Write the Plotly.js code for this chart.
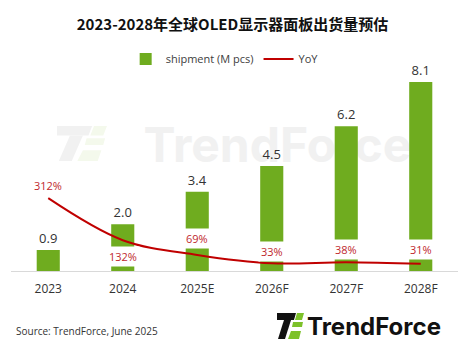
<!DOCTYPE html>
<html><head><meta charset="utf-8">
<script src="https://cdn.plot.ly/plotly-3.0.1.min.js"></script>
<style>html,body{margin:0;padding:0;background:#fff}#c{width:465px;height:345px}</style>
</head><body><div id="c"></div>
<script>
const categories = ['2023','2024','2025E','2026F','2027F','2028F'];
const shipment = [0.9, 2.0, 3.4, 4.5, 6.2, 8.1];
const shipmentLabels = ['0.9','2.0','3.4','4.5','6.2','8.1'];
const yoy = [3.12, 1.32, 0.69, 0.33, 0.38, 0.31];
const yoyLabels = ['312%','132%','69%','33%','38%','31%'];

// style: vertical offset of each YoY label (px)
const yoyShift = [13, -16, 16, 12, 13, 14];

const W = 465, H = 345, ML = 11, MR = 7, MT = 61, MB = 74;
const PW = W - ML - MR, PH = H - MT - MB;
const px = x => (x - ML) / PW;
const py = y => 1 - (y - MT) / PH;
function path(pts){ return 'M' + pts.map(p => px(p[0]).toFixed(4) + ',' + py(p[1]).toFixed(4)).join('L') + 'Z'; }

// logo geometry in pixels (base at 277,313)
const logoBlack = [
  [[277,313],[296,313],[294,320],[277,320]],
  [[284,320],[291,320],[285,339],[278,339]]
];
const logoGreen = [
  [[297,313],[304,313],[302,320],[295,320]],
  [[293,322],[303,322],[302,327],[292,327]],
  [[291,331],[301,331],[299,339],[288,339]]
];
function tf(pts, ox, oy, sx, sy){ return pts.map(p => [ox + (p[0]-277)*sx, oy + (p[1]-313)*sy]); }

const shapes = [];
shapes.push({type:'rect', xref:'paper', yref:'paper', layer:'below',
  x0:px(115), x1:px(440), y0:py(165), y1:py(122), line:{width:0}, fillcolor:'rgba(0,0,0,0)',
  label:{text:'TrendForce', font:{family:'Inter', size:48, color:'#f1f1f1', weight:700}, textposition:'middle center'}});
logoBlack.forEach(p => shapes.push({type:'path', xref:'paper', yref:'paper', layer:'below', path:path(tf(p,57,126,1.85,1.35)), fillcolor:'#f1f1f1', line:{width:0}}));
logoGreen.forEach(p => shapes.push({type:'path', xref:'paper', yref:'paper', layer:'below', path:path(tf(p,57,126,1.85,1.35)), fillcolor:'#f4f9ec', line:{width:0}}));
logoBlack.forEach(p => shapes.push({type:'path', xref:'paper', yref:'paper', path:path(p), fillcolor:'#111111', line:{width:0}}));
logoGreen.forEach(p => shapes.push({type:'path', xref:'paper', yref:'paper', path:path(p), fillcolor:'#7dc12a', line:{width:0}}));

const annotations = yoy.map((v,i) => ({
  x: i, y: v, xref:'x', yref:'y2', text: yoyLabels[i], showarrow:false,
  yshift: yoyShift[i], bgcolor:'#ffffff', borderpad:2,
  font:{family:'Open Sans', size:11, color:'#c0282d'}
}));
annotations.push({xref:'paper', yref:'paper', x:px(14), y:py(331), xanchor:'left', yanchor:'middle', showarrow:false,
  text:'Source: TrendForce, June 2025', font:{family:'Open Sans', size:10, color:'#333333'}});
annotations.push({xref:'paper', yref:'paper', x:px(305), y:py(326), xanchor:'left', yanchor:'middle', showarrow:false,
  text:'TrendForce', font:{family:'Inter', size:24, color:'#111111', weight:700}});

const data = [
  {type:'bar', name:'shipment (M pcs)', x:categories, y:shipment, text:shipmentLabels,
   textposition:'outside', textfont:{family:'Open Sans', size:13, color:'#333333'},
   marker:{color:'#6fac1f'}, width:0.31, cliponaxis:false, hoverinfo:'skip'},
  {type:'scatter', mode:'lines', name:'YoY', x:categories, y:yoy, yaxis:'y2',
   line:{color:'#c00000', width:2, shape:'spline', smoothing:1}, hoverinfo:'skip'}
];

const layout = {
  width:W, height:H, margin:{l:ML, r:MR, t:MT, b:MB},
  paper_bgcolor:'#ffffff', plot_bgcolor:'rgba(0,0,0,0)',
  title:{text:'2023-2028年全球OLED显示器面板出货量预估', x:0.5, xref:'container', y:1-25/H, yref:'container', yanchor:'middle',
    font:{family:'Noto Sans CJK SC', size:15, color:'#111111', weight:700}},
  showlegend:true,
  legend:{orientation:'h', x:0.478, xanchor:'center', y:1.01, yanchor:'middle', font:{family:'Open Sans', size:11, color:'#404040'}, bgcolor:'rgba(0,0,0,0)'},
  xaxis:{type:'category', range:[-0.5,5.5], showline:true, linecolor:'#d9d9d9', linewidth:1, showgrid:false, zeroline:false,
    ticks:'outside', ticklen:7, tickcolor:'rgba(0,0,0,0)', tickfont:{family:'Open Sans', size:12, color:'#333333'}, fixedrange:true},
  yaxis:{range:[0,9], visible:false, fixedrange:true},
  yaxis2:{range:[0,9], visible:false, overlaying:'y', fixedrange:true},
  shapes:shapes, annotations:annotations
};
Plotly.newPlot('c', data, layout, {displayModeBar:false, staticPlot:true});
</script></body></html>
